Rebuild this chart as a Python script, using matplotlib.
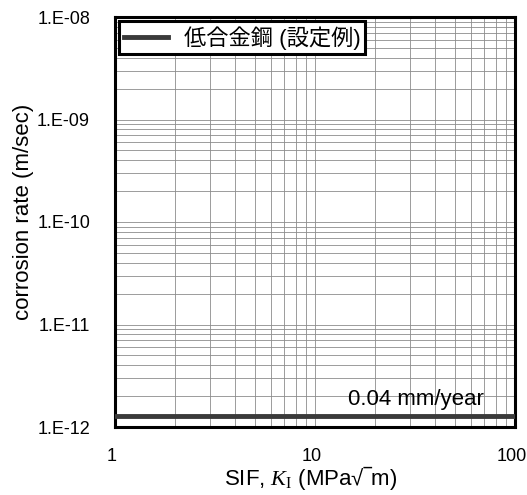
import numpy as np
import matplotlib.pyplot as plt
import matplotlib.transforms as mtransforms
from matplotlib.ticker import LogLocator, FixedLocator

plt.rcParams['font.family'] = ['Liberation Sans', 'Noto Sans CJK JP', 'DejaVu Sans']
plt.rcParams['mathtext.fontset'] = 'custom'
plt.rcParams['mathtext.it'] = 'Liberation Serif:italic'
plt.rcParams['mathtext.rm'] = 'Liberation Serif'

# 0.04 mm/year expressed in m/sec
rate_mm_year = 0.04
sif = [1, 100]
rate = [rate_mm_year * 1e-3 / (365 * 24 * 3600)] * 2

y_ticks = [1e-12, 1e-11, 1e-10, 1e-9, 1e-8]
y_labels = ['1.E-12', '1.E-11', '1.E-10', '1.E-09', '1.E-08']
x_ticks = [1, 10, 100]
x_labels = ['1', '10', '100']

fig = plt.figure(figsize=(5.27, 4.95), dpi=100)
ax = fig.add_axes([115 / 527, 1 - 427 / 495, 400 / 527, 410 / 495])

ax.plot(sif, rate, color='#3a3a3a', lw=3.5, label='低合金鋼 (設定例)', zorder=3)
ax.text(70, rate[0] * 1.15, '0.04 mm/year', ha='right', va='bottom', fontsize=16)

ax.set_xscale('log')
ax.set_yscale('log')
ax.set_xlim(1, 100)
ax.set_ylim(1e-12, 1e-8)
ax.xaxis.set_major_locator(FixedLocator(x_ticks))
ax.set_xticklabels(x_labels)
ax.yaxis.set_major_locator(FixedLocator(y_ticks))
ax.set_yticklabels(y_labels)
ax.xaxis.set_minor_locator(LogLocator(base=10, subs=np.arange(2, 10)))
ax.yaxis.set_minor_locator(LogLocator(base=10, subs=np.arange(2, 10)))
ax.tick_params(which='both', length=0, labelsize=13)
ax.tick_params(axis='y', pad=18)
ax.tick_params(axis='x', pad=15)
ax.grid(which='both', color='#8c8c8c', lw=0.6)

# nudge x tick labels a little to the left
shift = mtransforms.ScaledTranslation(-3 / 100, 0, fig.dpi_scale_trans)
for lab in ax.get_xticklabels():
    lab.set_transform(lab.get_transform() + shift)

for s in ax.spines.values():
    s.set_linewidth(2.2)
    s.set_color('black')

ax.set_xlabel(r'SIF, $K_\mathrm{I}$ (MPa√‾m)', fontsize=16)
ax.xaxis.set_label_coords(0.49, -0.125, transform=ax.transAxes)
ax.xaxis.label.set_va('center')
ax.set_ylabel('corrosion rate (m/sec)', fontsize=16)
ax.yaxis.set_label_coords(-0.23, 0.525)
ax.yaxis.label.set_va('center')

leg = ax.legend(loc='upper left', fontsize=16, frameon=True, fancybox=False,
                borderaxespad=0.2, handlelength=2.0, handletextpad=0.7,
                borderpad=0.2)
leg.get_frame().set_edgecolor('black')
leg.get_frame().set_linewidth(2.2)
leg.get_frame().set_alpha(1)

fig.savefig('out.png', dpi=100)
